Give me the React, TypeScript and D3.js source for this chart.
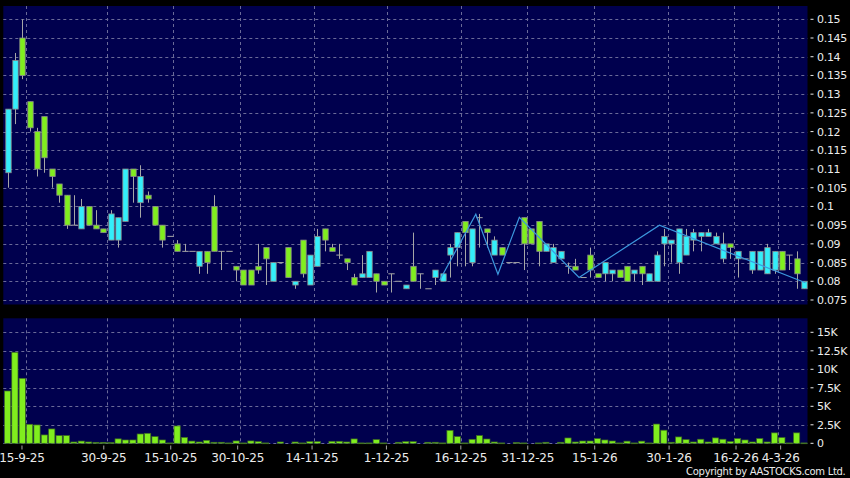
import React, { useEffect } from "react";
import * as d3 from "d3";

// daily OHLC, one entry per trading session (index 0 = 11-9-25)
const opens = [
  0.109, 0.126, 0.145, 0.128, 0.12, 0.124, 0.11, 0.106, 0.103, 0.095,
  0.094, 0.1, 0.095, 0.094, 0.091, 0.091, 0.096, 0.11, 0.101, 0.103,
  0.1, 0.095, 0.092, 0.09, 0.088, 0.088, 0.084, 0.088, 0.1, 0.088,
  0.088, 0.084, 0.083, 0.083, 0.084, 0.089, 0.08, 0.085, 0.089, 0.079,
  0.091, 0.079, 0.084, 0.094, 0.089, 0.087, 0.086, 0.081, 0.081, 0.081,
  0.082, 0.08, 0.082, 0.08, 0.078, 0.084, 0.082, 0.078, 0.081, 0.08,
  0.087, 0.089, 0.096, 0.085, 0.097, 0.094, 0.087, 0.089, 0.085, 0.085,
  0.097, 0.094, 0.096, 0.088, 0.085, 0.086, 0.084, 0.084, 0.081, 0.087,
  0.082, 0.082, 0.082, 0.083, 0.084, 0.082, 0.084, 0.08, 0.08, 0.09,
  0.09, 0.085, 0.087, 0.091, 0.092, 0.092, 0.09, 0.086, 0.09, 0.086,
  0.086, 0.083, 0.083, 0.082, 0.083, 0.088, 0.087, 0.086, 0.078,
];
const highs = [
  0.126, 0.141, 0.15, 0.128, 0.121, 0.124, 0.11, 0.106, 0.103, 0.103,
  0.102, 0.1, 0.099, 0.094, 0.099, 0.097, 0.11, 0.11, 0.111, 0.104,
  0.1, 0.095, 0.092, 0.091, 0.09, 0.088, 0.088, 0.088, 0.103, 0.088,
  0.088, 0.084, 0.083, 0.083, 0.09, 0.089, 0.085, 0.085, 0.089, 0.08,
  0.091, 0.087, 0.094, 0.094, 0.09, 0.09, 0.086, 0.082, 0.087, 0.088,
  0.082, 0.08, 0.082, 0.08, 0.079, 0.093, 0.082, 0.078, 0.083, 0.082,
  0.09, 0.093, 0.096, 0.094, 0.098, 0.094, 0.092, 0.089, 0.085, 0.085,
  0.097, 0.094, 0.096, 0.09, 0.09, 0.088, 0.085, 0.086, 0.081, 0.089,
  0.082, 0.085, 0.083, 0.083, 0.084, 0.083, 0.084, 0.082, 0.088, 0.094,
  0.091, 0.094, 0.094, 0.094, 0.093, 0.094, 0.093, 0.093, 0.09, 0.088,
  0.086, 0.088, 0.088, 0.09, 0.088, 0.088, 0.087, 0.088, 0.08,
];
const lows = [
  0.105, 0.122, 0.134, 0.12, 0.108, 0.109, 0.105, 0.101, 0.094, 0.095,
  0.094, 0.095, 0.094, 0.093, 0.091, 0.089, 0.096, 0.101, 0.097, 0.101,
  0.095, 0.089, 0.092, 0.088, 0.088, 0.088, 0.082, 0.082, 0.088, 0.083,
  0.088, 0.08, 0.079, 0.079, 0.082, 0.079, 0.08, 0.085, 0.081, 0.078,
  0.081, 0.079, 0.084, 0.088, 0.088, 0.086, 0.083, 0.079, 0.081, 0.081,
  0.077, 0.079, 0.077, 0.08, 0.078, 0.08, 0.078, 0.078, 0.079, 0.08,
  0.081, 0.084, 0.084, 0.084, 0.089, 0.089, 0.087, 0.087, 0.085, 0.085,
  0.083, 0.09, 0.084, 0.088, 0.085, 0.086, 0.082, 0.083, 0.081, 0.081,
  0.081, 0.08, 0.08, 0.081, 0.08, 0.08, 0.079, 0.08, 0.08, 0.084,
  0.085, 0.082, 0.087, 0.088, 0.088, 0.092, 0.09, 0.085, 0.086, 0.081,
  0.086, 0.082, 0.083, 0.082, 0.082, 0.083, 0.083, 0.078, 0.078,
];
const closes = [
  0.126, 0.139, 0.135, 0.121, 0.11, 0.113, 0.108, 0.103, 0.095, 0.095,
  0.1, 0.095, 0.094, 0.093, 0.098, 0.097, 0.11, 0.108, 0.108, 0.102,
  0.095, 0.091, 0.092, 0.088, 0.088, 0.088, 0.088, 0.085, 0.088, 0.088,
  0.088, 0.083, 0.079, 0.079, 0.083, 0.086, 0.085, 0.085, 0.081, 0.08,
  0.082, 0.087, 0.092, 0.091, 0.088, 0.087, 0.085, 0.079, 0.082, 0.088,
  0.08, 0.079, 0.082, 0.08, 0.079, 0.08, 0.082, 0.078, 0.083, 0.082,
  0.089, 0.093, 0.093, 0.094, 0.097, 0.093, 0.091, 0.087, 0.085, 0.085,
  0.09, 0.09, 0.088, 0.09, 0.089, 0.088, 0.084, 0.083, 0.081, 0.083,
  0.081, 0.085, 0.083, 0.081, 0.08, 0.083, 0.082, 0.082, 0.087, 0.092,
  0.091, 0.094, 0.092, 0.093, 0.093, 0.093, 0.092, 0.09, 0.089, 0.088,
  0.086, 0.088, 0.088, 0.089, 0.088, 0.083, 0.087, 0.082, 0.08,
];
// volume in thousands
const volumes = [
  7.07, 12.3, 8.78, 2.57, 2.48, 1.13, 1.94, 1.04, 1.04, 0.18,
  0.3, 0.18, 0.13, 0.13, 0.1, 0.6, 0.45, 0.45, 1.26, 1.35,
  0.9, 0.45, 0.05, 2.34, 0.8, 0.3, 0.18, 0.4, 0.14, 0.14,
  0.05, 0.32, 0.05, 0.32, 0.23, 0.05, 0, 0.18, 0, 0.18,
  0.05, 0.23, 0.23, 0, 0.27, 0.27, 0.18, 0.59, 0.05, 0.05,
  0.5, 0.05, 0, 0.14, 0.23, 0.23, 0, 0.14, 0.14, 0.05,
  1.75, 0.9, 0.05, 0.54, 1.04, 0.58, 0.18, 0.05, 0, 0.1,
  0.05, 0, 0.05, 0.14, 0, 0.14, 0.72, 0.18, 0.31, 0.31,
  0.63, 0.45, 0.31, 0.05, 0.29, 0.05, 0.29, 0.05, 2.6, 1.77,
  0.14, 0.86, 0.5, 0.18, 0.55, 0.18, 0.73, 0.55, 0.23, 0.64,
  0.45, 0.18, 0.64, 0.18, 1.41, 0.77, 0.05, 1.41, 0.05,
];

// swing line drawn over the candles
const swingIdx = [58.6, 63.5, 66.5, 69.4, 77.5, 88.4, 108.2];
const swingPrice = [0.0803, 0.0979, 0.0819, 0.0971, 0.081, 0.095, 0.0796];

const dateLabels = [
  "15-9-25", "30-9-25", "15-10-25", "30-10-25", "14-11-25", "1-12-25",
  "16-12-25", "31-12-25", "15-1-26", "30-1-26", "16-2-26", "4-3-26",
];
const dateIdx = [2, 13, 22, 31, 41, 51, 61, 70, 79, 89, 98, 104];

const priceTicks = [
  0.075, 0.08, 0.085, 0.09, 0.095, 0.1, 0.105, 0.11, 0.115, 0.12, 0.125,
  0.13, 0.135, 0.14, 0.145, 0.15,
];
const volTicks = [0, 2.5, 5, 7.5, 10, 12.5, 15];

const BG = "#000000";
const PANEL = "#00004e";
const GRID = "#6a6a98";
const UP = "#33eefa";
const DOWN = "#80ee1e";
const WICK = "#a6a6a6";
const TXT = "#ececec";
const FONT = "DejaVu Sans, sans-serif";

export default function App() {
  useEffect(() => {
    document.body.style.margin = "0";
    document.body.style.background = BG;
  }, []);

  const n = closes.length;
  const x = d3.scaleLinear().domain([0, n - 1]).range([7.5, 804]);
  const xTick = d3.scaleLinear().domain([0, n - 1]).range([7.1, 810.4]);
  const y = d3.scaleLinear().domain([0.075, 0.15]).range([300, 19.3]);
  const yv = d3.scaleLinear().domain([0, 15]).range([443.3, 332.3]);
  const fmt = d3.format(".3~f");

  const left = 3.3;
  const right = 807.5;
  const bodyW = 5.4;

  const swing = d3
    .line<number>()
    .x((d) => x(d))
    .y((_, i) => y(swingPrice[i]))(swingIdx) as string;

  return (
    <svg width={850} height={478} style={{ display: "block", background: BG }}>
      <rect x={0} y={0} width={850} height={478} fill={BG} />
      <rect x={left} y={6} width={right - left} height={298.5} fill={PANEL} />
      <rect x={left} y={318.3} width={right - left} height={125.7} fill={PANEL} />

      {/* grid */}
      <g stroke={GRID} strokeWidth={1} strokeDasharray="3,3" fill="none">
        {priceTicks.map((t) => (
          <line key={"pg" + t} x1={left} x2={right} y1={Math.round(y(t)) + 0.5} y2={Math.round(y(t)) + 0.5} />
        ))}
        {volTicks.map((t) => (
          <line key={"vg" + t} x1={left} x2={right} y1={Math.round(yv(t)) + 0.5} y2={Math.round(yv(t)) + 0.5} />
        ))}
        {dateIdx.map((d) => {
          const gx = Math.round(x(d + 0.5)) + 0.5;
          return (
            <g key={"dg" + d}>
              <line x1={gx} x2={gx} y1={6} y2={304.5} />
              <line x1={gx} x2={gx} y1={318.3} y2={444} />
            </g>
          );
        })}
      </g>

      {/* candles */}
      <g>
        {closes.map((c, i) => {
          const o = opens[i];
          const cx = Math.round(x(i)) + 0.5;
          const top = y(Math.max(o, c));
          const bot = y(Math.min(o, c));
          return (
            <g key={"c" + i}>
              <line x1={cx} x2={cx} y1={y(highs[i])} y2={y(lows[i])} stroke={WICK} strokeWidth={1} />
              {o === c ? (
                <line x1={cx - 3.2} x2={cx + 3.2} y1={top} y2={top} stroke={WICK} strokeWidth={1} />
              ) : (
                <rect
                  x={cx - bodyW / 2}
                  y={top}
                  width={bodyW}
                  height={Math.max(1, bot - top)}
                  fill={c > o ? UP : DOWN}
                  stroke="#8a8a8a"
                  strokeWidth={0.8}
                />
              )}
            </g>
          );
        })}
      </g>

      <path d={swing} fill="none" stroke="#3c98de" strokeWidth={1.2} />

      {/* volume */}
      <g>
        {volumes.map((v, i) =>
          v > 0 ? (
            <rect
              key={"v" + i}
              x={x(i) - 3.1}
              y={yv(v)}
              width={6.2}
              height={Math.max(0.8, yv(0) - yv(v))}
              fill={DOWN}
              stroke="#3d6a22"
              strokeWidth={0.7}
            />
          ) : null
        )}
      </g>

      {/* right axes */}
      <g fill={TXT} fontFamily={FONT} fontSize={11} letterSpacing={-0.3}>
        {priceTicks.map((t) => (
          <g key={"pt" + t}>
            <line x1={810.5} x2={813.5} y1={y(t)} y2={y(t)} stroke={TXT} />
            <text x={817} y={y(t)} dy="0.36em">
              {fmt(t)}
            </text>
          </g>
        ))}
        {volTicks.map((t) => (
          <g key={"vt" + t}>
            <line x1={810.5} x2={813.5} y1={yv(t)} y2={yv(t)} stroke={TXT} />
            <text x={817} y={yv(t)} dy="0.36em">
              {t === 0 ? "0" : t + "K"}
            </text>
          </g>
        ))}
      </g>

      {/* date axis */}
      <g fill={TXT} fontFamily={FONT} fontSize={12} letterSpacing={-0.2} textAnchor="middle">
        {dateIdx.map((d, k) => (
          <g key={"dt" + d}>
            <line x1={xTick(d)} x2={xTick(d)} y1={445.5} y2={449.5} stroke={WICK} />
            <text x={xTick(d)} y={462}>
              {dateLabels[k]}
            </text>
          </g>
        ))}
      </g>

      <text x={845.5} y={475} fill={TXT} fontFamily={FONT} fontSize={10} letterSpacing={-0.3} textAnchor="end">
        Copyright by AASTOCKS.com Ltd.
      </text>
    </svg>
  );
}
